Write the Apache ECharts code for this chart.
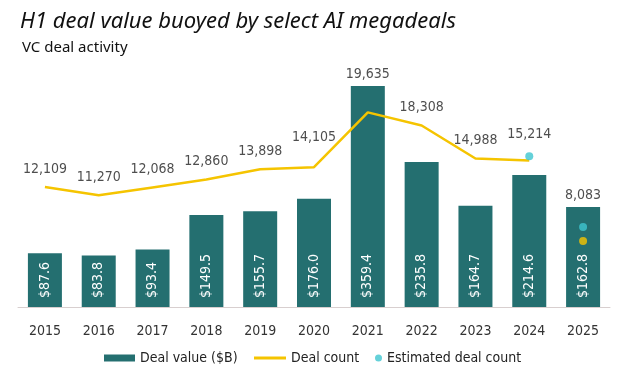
<!DOCTYPE html>
<html>
<head>
<meta charset="utf-8">
<script src="https://cdn.jsdelivr.net/npm/echarts@6/dist/echarts.min.js"></script>
<style>
  html, body { margin: 0; padding: 0; background: #fff; }
  #main { width: 624px; height: 375px; }
</style>
</head>
<body>
<div id="main"></div>
<script>
// data
var years = ['2015','2016','2017','2018','2019','2020','2021','2022','2023','2024','2025'];
var dealValue = [87.6, 83.8, 93.4, 149.5, 155.7, 176.0, 359.4, 235.8, 164.7, 214.6, 162.8];
var dealCount = [12109, 11270, 12068, 12860, 13898, 14105, 19635, 18308, 14988, 14780, null];
var dealCount2025 = [null, null, null, null, null, null, null, null, null, null, 6670];
var estimatedCount = [null, null, null, null, null, null, null, null, null, 15214, 8083];

var teal = '#246f70', yellow = '#f5c400', cyan = '#3fc6cf';
var font = "'DejaVu Sans Condensed', 'Noto Sans', sans-serif";
var titleFont = "'Noto Sans', sans-serif";

function fmt(v) { return Number(v).toLocaleString('en-US'); }

// some labels sit higher to clear the bars
var lift = { 5: 12, 6: 20, 10: 10 };

var labelStyle = {
    show: true,
    position: 'top',
    distance: 11,
    color: '#222',
    fontSize: 14,
    formatter: function (p) { return fmt(p.value); }
};

var legendText = { fontSize: 14, color: '#222', fontFamily: font };

var myChart = echarts.init(document.getElementById('main'));
var option = {
    textStyle: { fontFamily: font },
    title: [
        { text: 'H1 deal value buoyed by select AI megadeals', left: 20, top: 11, padding: 0,
          textStyle: { fontSize: 22, fontStyle: 'italic', fontWeight: 'normal', color: '#111', fontFamily: titleFont } },
        { text: 'VC deal activity', left: 22, top: 40, padding: 0,
          textStyle: { fontSize: 15, fontWeight: 'normal', color: '#111', fontFamily: titleFont } }
    ],
    legend: [
        {
            left: 104, top: 351, padding: 0, itemWidth: 31, itemHeight: 7,
            textStyle: legendText,
            data: [{ name: 'Deal value ($B)', icon: 'rect' }]
        },
        {
            left: 254, top: 351, padding: 0, itemWidth: 32, itemHeight: 3,
            textStyle: legendText,
            data: [{ name: 'Deal count', icon: 'rect' }]
        },
        {
            left: 375, top: 351, padding: 0, itemWidth: 7, itemHeight: 7,
            textStyle: legendText,
            data: ['Estimated deal count']
        }
    ],
    grid: { left: 18, right: 14, top: 85, bottom: 68 },
    xAxis: {
        type: 'category',
        data: years,
        axisLine: { lineStyle: { color: '#d8cfcf', width: 1 } },
        axisTick: { show: false },
        axisLabel: { color: '#333', fontSize: 14, margin: 17 }
    },
    yAxis: [
        { type: 'value', min: 0, max: 361, show: false, splitLine: { show: false } },
        { type: 'value', min: 0, max: 22400, show: false, splitLine: { show: false } }
    ],
    series: [
        {
            name: 'Deal value ($B)',
            type: 'bar',
            data: dealValue,
            barWidth: 34,
            itemStyle: { color: teal },
            label: {
                show: true,
                position: 'insideBottom',
                rotate: 90,
                align: 'left',
                verticalAlign: 'middle',
                distance: 9,
                color: '#fff',
                fontSize: 14,
                formatter: function (p) { return '$' + p.value.toFixed(1); }
            },
            z: 1
        },
        {
            name: 'Deal count',
            type: 'line',
            yAxisIndex: 1,
            data: dealCount,
            symbol: 'none',
            lineStyle: { color: yellow, width: 2.5 },
            itemStyle: { color: yellow },
            z: 3
        },
        {
            // value labels above the deal count line
            name: 'countLabels',
            type: 'scatter',
            yAxisIndex: 1,
            data: dealCount.map(function (v, i) {
                var item = { value: i === 9 ? null : v };
                if (lift[i]) item.label = { offset: [0, -lift[i]] };
                return item;
            }),
            symbolSize: 0,
            label: labelStyle,
            silent: true,
            z: 5
        },
        {
            name: 'count2025',
            type: 'scatter',
            yAxisIndex: 1,
            data: dealCount2025,
            symbolSize: 8,
            itemStyle: { color: yellow },
            z: 4
        },
        {
            name: 'Estimated deal count',
            type: 'scatter',
            yAxisIndex: 1,
            data: estimatedCount.map(function (v, i) {
                var item = { value: v };
                if (lift[i]) item.label = { offset: [0, -lift[i]] };
                return item;
            }),
            symbolSize: 8,
            itemStyle: { color: cyan },
            label: labelStyle,
            z: 4
        }
    ]
};
myChart.setOption(option);

window.addEventListener('resize', function () {
    myChart.resize();
});
</script>
</body>
</html>
